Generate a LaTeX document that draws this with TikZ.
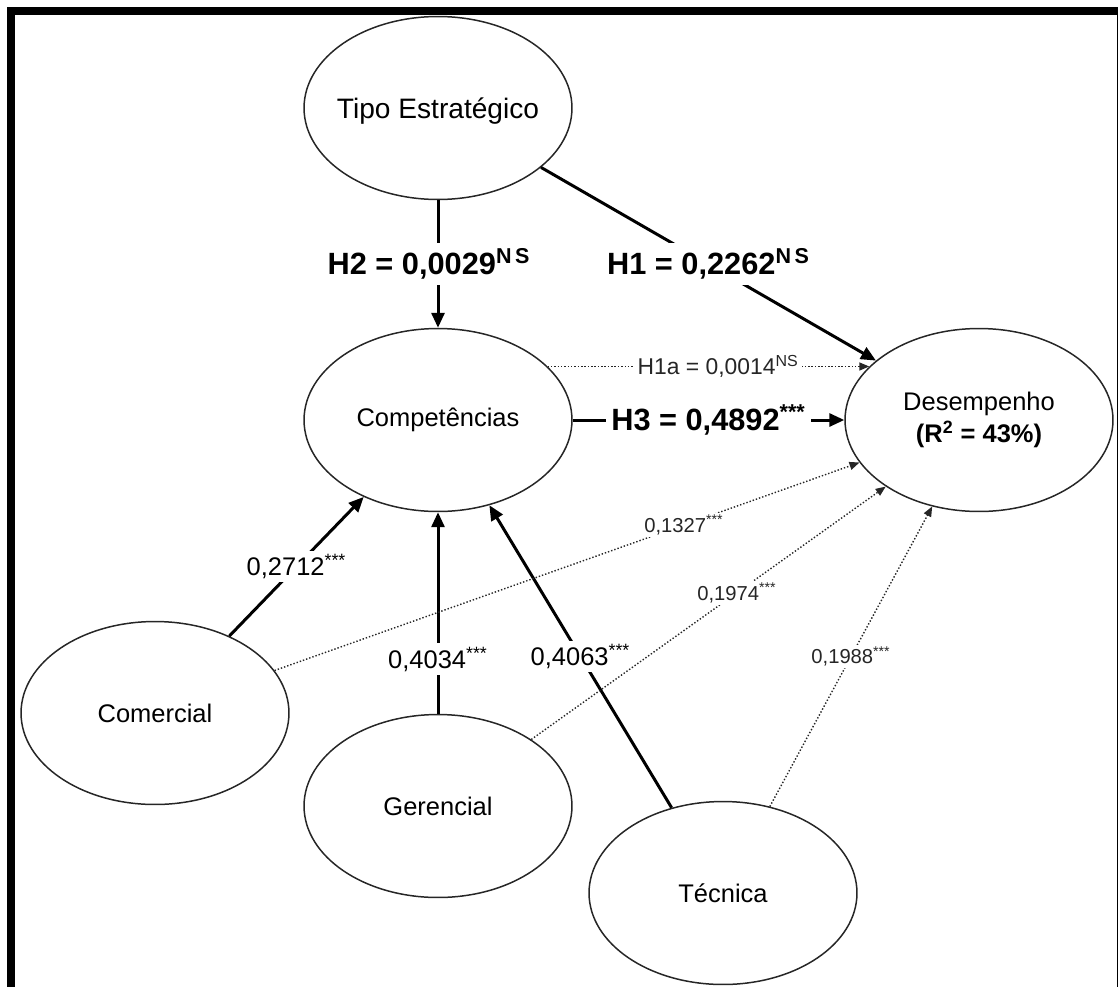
\documentclass[tikz,border=0pt]{standalone}
\usepackage{fontspec}
\setmainfont{Liberation Sans}
\usetikzlibrary{shapes.geometric,arrows.meta}

\begin{document}
\begin{tikzpicture}[x=0.02cm,y=-0.02cm,
  construct/.style={draw=black!85, line width=0.85pt, ellipse,
    minimum width=5.36cm, minimum height=3.66cm, inner sep=0pt},
  nodetext/.style={font=\fontsize{14.5}{18}\selectfont},
  strong/.style={line width=1.7pt, -{Triangle[length=0.3cm,width=0.26cm]}},
  weak/.style={line width=0.8pt, black!85, dash pattern=on 0.8pt off 1.1pt,
    -{Triangle[length=0.2cm,width=0.16cm]}},
  hyp/.style={font=\fontsize{17.5}{20}\selectfont\bfseries, fill=white, inner sep=3pt},
  h1alab/.style={font=\fontsize{13}{15}\selectfont, fill=white, inner sep=2pt},
  coef/.style={font=\fontsize{14.5}{17}\selectfont, fill=white, inner sep=2pt},
  smalllab/.style={font=\fontsize{11.5}{13}\selectfont, fill=white, inner sep=1pt},
]
\useasboundingbox (0,0) rectangle (1118,987);

% frame
\fill[black] (7,7) rectangle (1118,15);
\fill[black] (7,7) rectangle (15,987);
\fill[black] (1116.5,7) rectangle (1118,987);

% constructs
\node[construct, label={[font=\fontsize{16}{19}\selectfont, yshift=-0.06cm]center:Tipo Estratégico}] (tipo) at (438,108) {};
\node[construct, label={[nodetext]center:Competências}] (comp) at (438,420) {};
\node[construct, label={[nodetext,align=center]center:{Desempenho\\\textbf{(R\textsuperscript{2} = 43\%)}}}] (desemp) at (979,420) {};
\node[construct, label={[nodetext]center:Comercial}] (comercial) at (155,713) {};
\node[construct, label={[nodetext]center:Gerencial}] (gerencial) at (438,806) {};
\node[construct, label={[nodetext]center:Técnica}] (tecnica) at (723,893) {};

% structural paths
\draw[strong] (tipo) -- node[hyp, xshift=-0.18cm] {H2 = 0,0029\textsuperscript{N\,S}} (comp);
\draw[strong] (tipo) -- node[hyp] {H1 = 0,2262\textsuperscript{N\,S}} (desemp);
\draw[strong] (comp) -- node[hyp] {H3 = 0,4892\textsuperscript{***}} (desemp);
\draw[weak] (comp.26) -- node[h1alab, pos=0.53] {H1a = 0,0014\textsuperscript{NS}} (desemp.154);

% dimensions of competences
\draw[strong] (comercial) -- node[coef] {0,2712\textsuperscript{***}} (comp);
\draw[strong] (gerencial) -- node[coef, pos=0.27] {0,4034\textsuperscript{***}} (comp);
\draw[strong] (tecnica) -- node[coef] {0,4063\textsuperscript{***}} (comp);

% direct effects on performance
\draw[weak] (comercial) -- node[smalllab, pos=0.7] {0,1327\textsuperscript{***}} (desemp);
\draw[weak] (gerencial) -- node[smalllab, pos=0.58] {0,1974\textsuperscript{***}} (desemp);
\draw[weak] (tecnica) -- node[smalllab] {0,1988\textsuperscript{***}} (desemp);
\end{tikzpicture}
\end{document}
